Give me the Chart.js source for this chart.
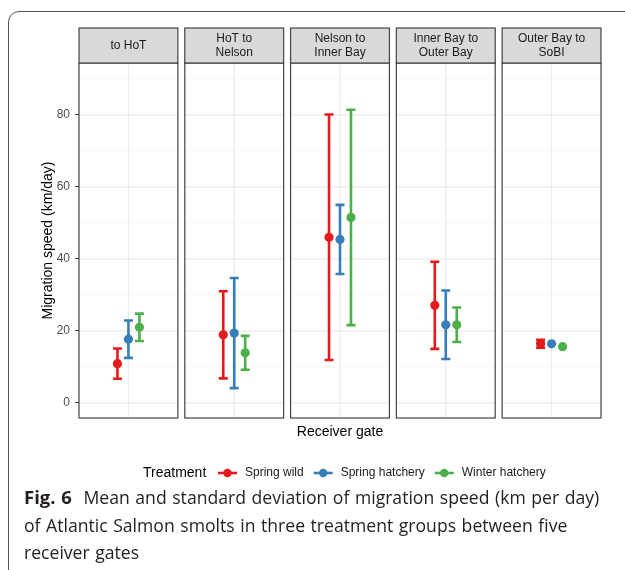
<!DOCTYPE html>
<html>
<head>
<meta charset="utf-8">
<script src="https://cdn.jsdelivr.net/npm/chart.js@4.4.1/dist/chart.umd.min.js"></script>
<style>
  html, body { margin: 0; padding: 0; background: #fff; }
  body { width: 625px; height: 570px; position: relative; overflow: hidden; }
  #frame {
    position: absolute; left: 8px; top: 11px; width: 660px; height: 620px;
    border: 1.3px solid #555; border-top-left-radius: 11px;
  }
  #chartBox { position: absolute; left: 0; top: 0; width: 625px; height: 490px; }
  #caption {
    position: absolute; left: 24px; top: 483px; width: 600px;
    font-family: "Open Sans", sans-serif; font-size: 17.6px; line-height: 27.5px;
    word-spacing: 1px; color: #231f20; white-space: nowrap;
  }
  #caption b { font-weight: 700; font-size: 18.5px; margin-right: 6px; }
</style>
</head>
<body>
<div id="frame"></div>
<div id="chartBox"><canvas id="speedChart" width="625" height="490"></canvas></div>
<div id="caption"><b>Fig. 6</b> Mean and standard deviation of migration speed (km per day)<br>of Atlantic Salmon smolts in three treatment groups between five<br>receiver gates</div>
<script>
const gates = [["to HoT"], ["HoT to", "Nelson"], ["Nelson to", "Inner Bay"], ["Inner Bay to", "Outer Bay"], ["Outer Bay to", "SoBI"]];
const treatments = ["Spring wild", "Spring hatchery", "Winter hatchery"];
const colors = ["#e41a1c", "#377eb8", "#4daf4a"];

// mean and sd per gate
const wildMean = [10.9, 18.9, 46.0, 27.1, 16.4];
const wildSd = [4.2, 12.1, 34.1, 12.1, 1.1];
const hatcheryMean = [17.7, 19.4, 45.4, 21.7, 16.4];
const hatcherySd = [5.2, 15.3, 9.6, 9.5, null];
const winterMean = [21.0, 13.9, 51.5, 21.7, 15.6];
const winterSd = [3.8, 4.7, 29.9, 4.8, null];

const yTicks = [0, 20, 40, 60, 80];

const means = [wildMean, hatcheryMean, winterMean];
const sds = [wildSd, hatcherySd, winterSd];

const step = 1.07;     // panel width 1 + gap
const dodge = 0.111;
const font = "Liberation Sans, Arial, sans-serif";

const datasets = treatments.map((name, s) => ({
    label: name,
    data: means[s].map((m, i) => ({ x: i * step + 0.5 + (s - 1) * dodge, y: m, sd: sds[s][i] })),
    backgroundColor: colors[s],
    borderColor: colors[s],
    pointRadius: 4.6,
    pointBorderWidth: 0,
    showLine: false
}));

const panelPlugin = {
    id: 'panels',
    beforeDatasetsDraw(chart) {
        const c = chart.ctx;
        const x = chart.scales.x, y = chart.scales.y;
        const area = chart.chartArea;
        c.save();
        gates.forEach((g, i) => {
            const l = x.getPixelForValue(i * step);
            const r = x.getPixelForValue(i * step + 1);
            c.fillStyle = '#fff';
            c.fillRect(l, area.top, r - l, area.bottom - area.top);
            // minor grid
            c.strokeStyle = '#f2f2f2';
            c.lineWidth = 0.6;
            [10, 30, 50, 70, 90].forEach(v => {
                const py = y.getPixelForValue(v);
                c.beginPath(); c.moveTo(l, py); c.lineTo(r, py); c.stroke();
            });
            // major grid
            c.strokeStyle = '#ebebeb';
            c.lineWidth = 1.2;
            yTicks.forEach(v => {
                const py = y.getPixelForValue(v);
                c.beginPath(); c.moveTo(l, py); c.lineTo(r, py); c.stroke();
            });
            const cx = x.getPixelForValue(i * step + 0.5);
            c.beginPath(); c.moveTo(cx, area.top); c.lineTo(cx, area.bottom); c.stroke();
            // border
            c.strokeStyle = '#444';
            c.lineWidth = 1.2;
            c.strokeRect(l, area.top, r - l, area.bottom - area.top);
            // strip
            c.fillStyle = '#d9d9d9';
            c.fillRect(l, 28, r - l, area.top - 28);
            c.strokeRect(l, 28, r - l, area.top - 28);
            c.fillStyle = '#1a1a1a';
            c.font = '12px ' + font;
            c.textAlign = 'center';
            c.textBaseline = 'middle';
            const mid = (28 + area.top) / 2;
            if (g.length === 1) {
                c.fillText(g[0], (l + r) / 2, mid);
            } else {
                c.fillText(g[0], (l + r) / 2, mid - 7);
                c.fillText(g[1], (l + r) / 2, mid + 7);
            }
        });
        // error bars
        chart.data.datasets.forEach(ds => {
            c.strokeStyle = ds.borderColor;
            c.lineWidth = 2.6;
            ds.data.forEach(p => {
                if (p.sd == null) return;
                const px = x.getPixelForValue(p.x);
                const hi = y.getPixelForValue(p.y + p.sd);
                const lo = y.getPixelForValue(p.y - p.sd);
                c.beginPath();
                c.moveTo(px, hi); c.lineTo(px, lo);
                c.moveTo(px - 4.5, hi); c.lineTo(px + 4.5, hi);
                c.moveTo(px - 4.5, lo); c.lineTo(px + 4.5, lo);
                c.stroke();
            });
        });
        c.restore();
    },
    afterDraw(chart) {
        const c = chart.ctx;
        c.save();
        const ly = 473;
        c.textBaseline = 'middle';
        c.textAlign = 'left';
        c.fillStyle = '#000';
        c.font = '14px ' + font;
        c.fillText('Treatment', 143, ly);
        let lx = 218;
        chart.data.datasets.forEach(ds => {
            c.strokeStyle = ds.borderColor;
            c.fillStyle = ds.borderColor;
            c.lineWidth = 2.6;
            c.beginPath(); c.moveTo(lx, ly); c.lineTo(lx + 19, ly); c.stroke();
            c.beginPath(); c.arc(lx + 9.5, ly, 4.2, 0, Math.PI * 2); c.fill();
            c.fillStyle = '#1a1a1a';
            c.font = '12px ' + font;
            c.fillText(ds.label, lx + 27, ly);
            lx += 27 + c.measureText(ds.label).width + 10;
        });
        c.restore();
    }
};

new Chart(document.getElementById('speedChart'), {
    type: 'scatter',
    data: { datasets: datasets },
    plugins: [panelPlugin],
    options: {
        responsive: false,
        animation: false,
        layout: { padding: { left: 0, right: 24, top: 63, bottom: 42 } },
        plugins: { legend: { display: false }, tooltip: { enabled: false } },
        scales: {
            x: {
                type: 'linear', min: 0, max: 4 * step + 1,
                ticks: { display: false },
                grid: { display: false },
                border: { display: false },
                title: { display: true, text: 'Receiver gate', color: '#000', font: { family: font, size: 14 }, padding: { top: 0, bottom: 7 } },
                afterFit(scale) { scale.height = 30; }
            },
            y: {
                min: -4.2, max: 94.4,
                afterBuildTicks(scale) { scale.ticks = yTicks.map(v => ({ value: v })); },
                ticks: { color: '#4d4d4d', font: { family: font, size: 12 }, padding: 5 },
                grid: { drawOnChartArea: false, tickLength: 4, tickColor: '#333', lineWidth: 1 },
                border: { display: false },
                title: { display: true, text: 'Migration speed (km/day)', color: '#000', font: { family: font, size: 14 }, padding: { top: 40, bottom: 0 } },
                afterFit(scale) { scale.width = 79; }
            }
        }
    }
});
</script>
</body>
</html>
